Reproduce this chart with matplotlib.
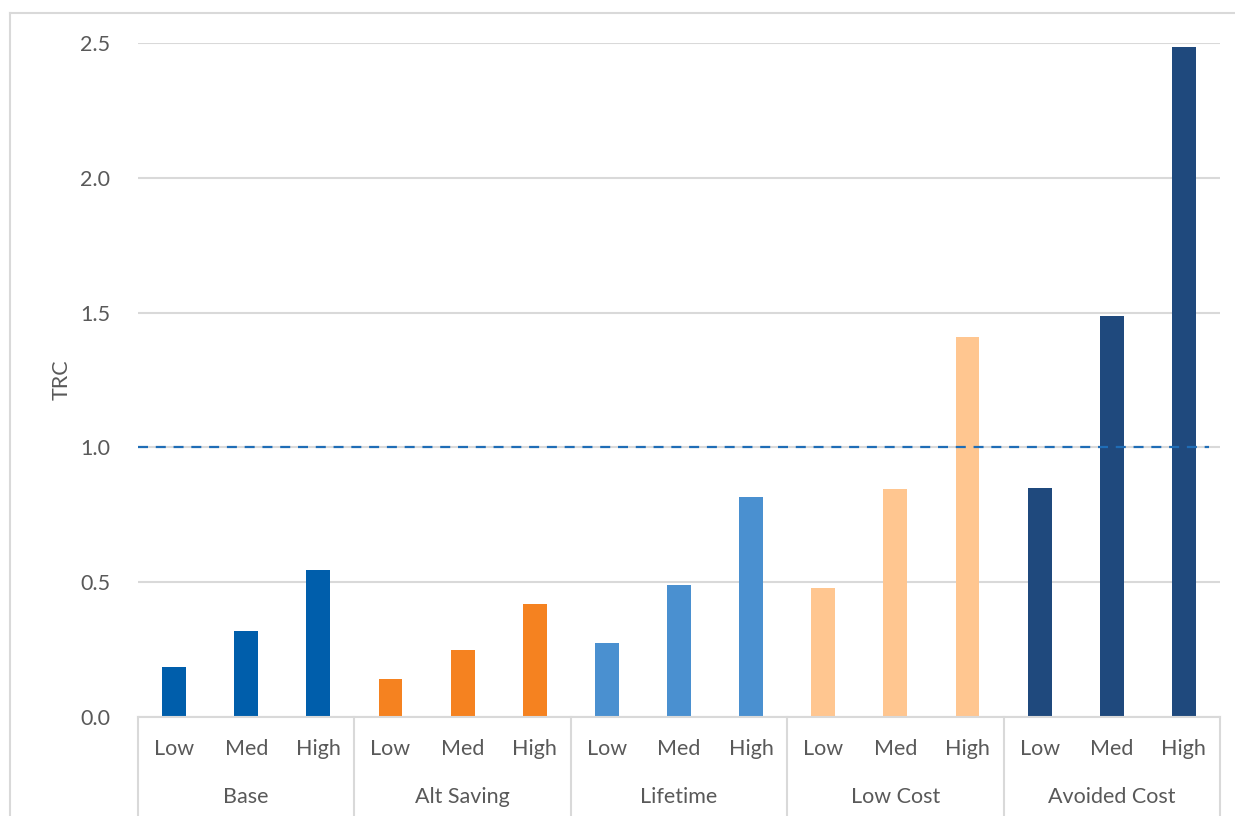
import matplotlib
matplotlib.use("Agg")
import matplotlib.pyplot as plt
from matplotlib.lines import Line2D
import numpy as np

# Sensitivity groups and levels
groups = ["Base", "Alt Saving", "Lifetime", "Low Cost", "Avoided Cost"]
levels = ["Low", "Med", "High"]

base = [0.185, 0.32, 0.545]
alt_saving = [0.14, 0.25, 0.42]
lifetime = [0.275, 0.49, 0.815]
low_cost = [0.48, 0.845, 1.41]
avoided_cost = [0.85, 1.487, 2.485]

series = [base, alt_saving, lifetime, low_cost, avoided_cost]
colors = ["#005EAB", "#F58220", "#4A90D0", "#FFC690", "#1F497D"]

y_ticks = [0.0, 0.5, 1.0, 1.5, 2.0, 2.5]
threshold = 1.0

plt.rcParams["font.family"] = ["Lato", "DejaVu Sans"]
text_color = "#595959"
grid_color = "#D9D9D9"
fs = 15.5

W, H = 1235, 816
fig = plt.figure(figsize=(W / 100, H / 100), dpi=100)

left, right, bottom, top = 138, 1220, 717, 43
ax = fig.add_axes([left / W, 1 - bottom / H, (right - left) / W, (bottom - top) / H])

for g, vals in enumerate(series):
    xs = [3 * g + i for i in range(len(vals))]
    ax.bar(xs, vals, width=0.33, color=colors[g], zorder=3)

ax.set_xlim(-0.5, 14.5)
ax.set_ylim(0, 2.5)
ax.set_yticks(y_ticks)
ax.set_yticklabels([f"{v:.1f}" for v in y_ticks], fontsize=fs, color=text_color)
ax.tick_params(axis="y", length=0, pad=20)
ax.grid(axis="y", color=grid_color, linewidth=1.5, zorder=0)
ax.set_axisbelow(True)

for s in ["top", "right", "left"]:
    ax.spines[s].set_visible(False)
ax.spines["bottom"].set_color(grid_color)
ax.spines["bottom"].set_linewidth(1.5)
ax.spines["bottom"].set_zorder(4)

# reference line at TRC = 1
ax.plot([-0.5, 14.35], [threshold, threshold], color="#1F6DB6", linewidth=1.6,
        dashes=(4.5, 3.5), zorder=4)

fig.text(62 / W, 1 - 380 / H, "TRC", rotation=90, ha="center", va="center",
         fontsize=fs, color=text_color)

# two-level category axis
ax.set_xticks([])
trans = ax.get_xaxis_transform()
for g, name in enumerate(groups):
    for i, lv in enumerate(levels):
        ax.text(3 * g + i, -0.048, lv, transform=trans, ha="center", va="center",
                fontsize=fs, color=text_color)
    ax.text(3 * g + 1, -0.119, name, transform=trans, ha="center", va="center",
            fontsize=fs, color=text_color)

for b in np.arange(-0.5, 15, 3):
    ax.add_line(Line2D([b, b], [0, -0.2], transform=trans, color=grid_color,
                       linewidth=1.5, clip_on=False, zorder=2))

# outer chart frame
fig.add_artist(Line2D([10 / W, 10 / W], [0, 1 - 13 / H], transform=fig.transFigure,
                      color=grid_color, linewidth=1.5))
fig.add_artist(Line2D([10 / W, 1], [1 - 13 / H, 1 - 13 / H], transform=fig.transFigure,
                      color=grid_color, linewidth=1.5))

fig.savefig("out.png", dpi=100, facecolor="white")
